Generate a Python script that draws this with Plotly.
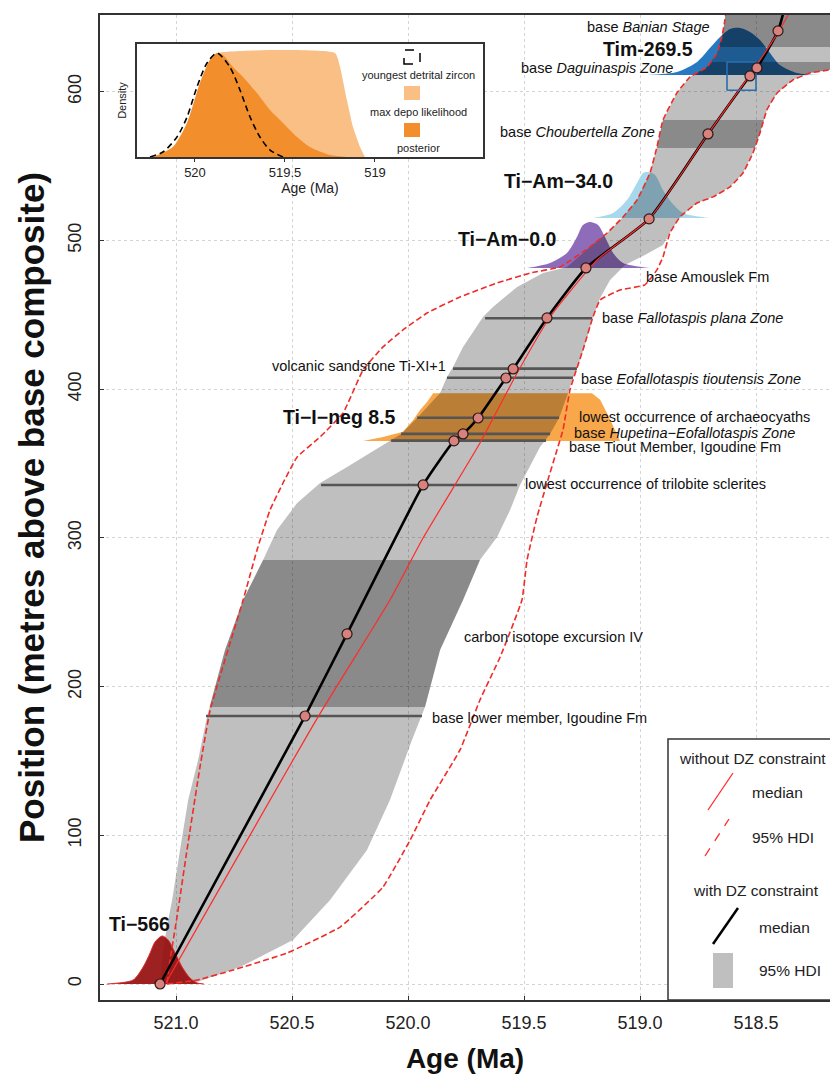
import numpy as np
import plotly.graph_objects as go

FONT = "Liberation Sans"

# ---------------- data ----------------
# horizon medians (with DZ constraint): age (Ma), position (m)
horizon_age = [521.069, 520.444, 520.263, 519.935, 519.802, 519.763, 519.698,
               519.578, 519.547, 519.401, 519.233, 518.961, 518.707, 518.526,
               518.496, 518.405]
horizon_pos = [0, 180.2, 235.4, 335.6, 365.2, 369.9, 380.6, 407.5, 413.6,
               447.9, 481.5, 514.5, 571.6, 610.6, 616.0, 640.9]

# age-depth median with DZ constraint
median_dz_age = horizon_age + [518.379]
median_dz_pos = horizon_pos + [655.0]

# age-depth median without DZ constraint
median_nodz_age = [521.047, 520.388, 520.078, 519.940, 519.690, 519.539, 519.388,
                   519.185, 518.957, 518.707, 518.517, 518.401, 518.349]
median_nodz_pos = [0, 179.6, 258.2, 298.6, 363.8, 408.2, 448.5,
                   486.9, 515.1, 571.6, 613.3, 640.9, 655.0]

# 95% HDI without DZ constraint (older / younger bounds)
hdi_nodz_old_age = [521.039, 521.026, 520.996, 520.953, 520.897, 520.853, 520.711, 520.651,
                    520.595, 520.539, 520.478, 520.379, 520.280, 520.194, 520.108, 520.022,
                    519.918, 519.776, 519.616, 519.474, 519.345, 519.216, 519.142, 519.073,
                    519.013, 518.957, 518.927, 518.901, 518.841, 518.784, 518.711, 518.668,
                    518.647, 518.634, 518.629]
hdi_nodz_old_pos = [0.7, 16.1, 45.1, 90.1, 145.9, 184.3, 258.2, 291.9,
                    318.8, 336.9, 354.4, 367.9, 384.0, 412.9, 428.4, 439.8,
                    451.2, 462.0, 471.4, 478.1, 482.2, 495.6, 505.0, 515.8,
                    527.2, 545.4, 562.9, 581.0, 599.2, 610.0, 616.7, 626.1,
                    636.8, 648.3, 655.0]
hdi_nodz_young_age = [521.039, 520.909, 520.754, 520.522, 520.293, 520.108, 519.991, 519.905,
                      519.776, 519.690, 519.603, 519.509, 519.487, 519.444, 519.401, 519.358,
                      519.332, 519.302, 519.246, 519.203, 519.172, 519.086, 518.979, 518.927,
                      518.901, 518.871, 518.828, 518.754, 518.685, 518.612, 518.556, 518.513,
                      518.483, 518.453, 518.409, 518.341, 518.267, 518.181, 518.052]
hdi_nodz_young_pos = [0, 2.7, 9.4, 20.8, 38.3, 65.2, 96.8, 123.7,
                      157.4, 191.0, 219.9, 258.2, 285.1, 314.1, 336.9, 359.1,
                      372.6, 399.5, 426.4, 448.5, 460.0, 466.7, 470.1, 480.2,
                      488.9, 505.0, 515.8, 525.2, 529.3, 536.0, 545.4, 558.8,
                      572.3, 587.8, 599.2, 607.9, 612.6, 614.7, 616.0]

# 95% HDI with DZ constraint
hdi_dz_old_age = [521.069, 521.056, 521.034, 521.017, 520.983, 520.948, 520.905, 520.866,
                  520.789, 520.711, 520.625, 520.565, 520.478, 520.379, 520.263, 520.164,
                  520.078, 520.030, 519.961, 519.862, 519.832, 519.806, 519.763, 519.677,
                  519.634, 519.530, 519.418, 519.315, 519.216, 519.142, 519.073, 519.013,
                  518.957, 518.927, 518.901, 518.841, 518.784, 518.711, 518.668, 518.647,
                  518.634, 518.629]
hdi_dz_old_pos = [0, 22.9, 43.0, 56.5, 90.1, 123.7, 150.6, 180.2,
                  224.6, 258.2, 285.1, 305.3, 323.5, 336.9, 347.7, 357.1,
                  365.2, 369.9, 380.6, 397.4, 408.2, 414.9, 428.4, 448.5,
                  455.3, 468.7, 478.1, 482.2, 495.6, 505.0, 515.8, 527.2,
                  545.4, 562.9, 581.0, 599.2, 610.0, 616.7, 626.1, 636.8,
                  648.3, 670.0]
hdi_dz_young_age = [520.909, 520.724, 520.496, 520.336, 520.177, 520.078, 519.983, 519.927,
                    519.862, 519.763, 519.690, 519.616, 519.560, 519.517, 519.431, 519.388,
                    519.349, 519.310, 519.289, 519.272, 519.237, 519.203, 519.172, 519.129,
                    519.065, 518.979, 518.901, 518.871, 518.828, 518.754, 518.685, 518.612,
                    518.556, 518.513, 518.483, 518.453, 518.409, 518.341, 518.267, 518.181,
                    518.052, 518.0]
hdi_dz_young_pos = [1.3, 11.4, 29.6, 56.5, 90.1, 123.7, 164.1, 186.3,
                    224.6, 258.2, 285.1, 300.6, 318.8, 335.6, 361.1, 369.9,
                    380.6, 397.4, 407.5, 413.6, 429.7, 447.9, 461.3, 473.4,
                    483.5, 490.2, 497.0, 505.0, 515.8, 525.2, 529.3, 536.0,
                    545.4, 558.8, 572.3, 587.8, 599.2, 607.9, 612.6, 614.7,
                    616.0, 670.0]

# darker shaded intervals (position ranges)
band_bottom = [186.3, 562.2, 611.3, 630.1]
band_top = [285.1, 581.0, 620.0, 670.0]

# horizon uncertainty bars
bar_pos = [180.2, 335.6, 365.4, 369.9, 380.8, 407.7, 413.8, 447.7]
bar_old = [520.871, 520.375, 520.073, 520.030, 519.961, 519.832, 519.806, 519.668]
bar_young = [519.940, 519.530, 519.405, 519.388, 519.349, 519.289, 519.272, 519.207]

# dated samples: density curves (age, height in m) and base position
ti566_age = [521.297, 521.272, 521.185, 521.142, 521.112, 521.091, 521.060, 521.034,
             521.004, 520.974, 520.940, 520.909, 520.880]
ti566_h = [0, 0.3, 2.7, 11.4, 20.8, 28.2, 32.3, 29.6, 20.8, 11.4, 4.0, 0.7, 0]
ti566_base = 0.0

tiam0_age = [519.487, 519.388, 519.315, 519.272, 519.246, 519.216, 519.181, 519.151,
             519.116, 519.073, 518.957]
tiam0_h = [0, 3.4, 10.1, 20.8, 28.9, 30.9, 28.9, 20.8, 10.1, 3.4, 0]
tiam0_base = 481.5

tiam34_age = [519.203, 519.116, 519.056, 519.013, 518.987, 518.966, 518.935, 518.901,
              518.862, 518.815, 518.698]
tiam34_h = [0, 3.4, 12.1, 23.5, 30.3, 30.9, 28.9, 18.8, 10.1, 3.4, 0]
tiam34_base = 515.1

tim_age = [518.970, 518.841, 518.754, 518.698, 518.655, 518.612, 518.569, 518.526,
           518.483, 518.440, 518.397, 518.323, 518.224]
tim_h = [0, 2.0, 8.7, 18.2, 25.5, 30.9, 31.6, 28.9, 23.5, 14.8, 6.7, 1.3, 0]
tim_base = 611.3

tineg_age = [520.194, 520.108, 520.022, 519.978, 519.948, 519.918, 519.892, 519.207,
             519.172, 519.138, 519.108, 519.086]
tineg_h = [0, 2.7, 6.1, 14.1, 20.8, 26.2, 32.0, 32.0, 27.6, 17.5, 7.4, 0]
tineg_base = 365.2

# detrital zircon box
dz_box_age = [518.625, 518.500]
dz_box_pos = [601.0, 620.0]

# labels
label_text = ["base <i>Banian Stage</i>", "<b>Tim-269.5</b>", "base <i>Daguinaspis Zone</i>",
              "base <i>Choubertella Zone</i>", "<b>Ti−Am−34.0</b>", "<b>Ti−Am−0.0</b>",
              "base Amouslek Fm", "base <i>Fallotaspis plana Zone</i>",
              "volcanic sandstone Ti-XI+1", "base <i>Eofallotaspis tioutensis Zone</i>",
              "<b>Ti−I−neg 8.5</b>", "lowest occurrence of archaeocyaths",
              "base <i>Hupetina−Eofallotaspis Zone</i>", "base Tiout Member, Igoudine Fm",
              "lowest occurrence of trilobite sclerites", "carbon isotope excursion IV",
              "base lower member, Igoudine Fm", "<b>Ti−566</b>"]
label_age = [518.690, 518.763, 518.849, 518.927, 519.108, 519.353, 518.983, 519.172,
             519.828, 519.263, 520.043, 519.272, 519.293, 519.315, 519.504, 519.767,
             519.905, 521.297]
label_pos = [643.6, 628.8, 615.7, 573.0, 540.0, 501.0, 475.5, 447.9,
             415.6, 406.9, 381.6, 381.3, 370.5, 361.1, 335.9, 233.4,
             178.9, 40.3]
label_side = ["right", "right", "right", "right", "right", "right", "left", "left",
              "right", "left", "right", "left", "left", "left", "left", "left",
              "left", "left"]

# inset: Tim-269.5 sample
inset_post_age = [520.233, 520.122, 520.044, 519.972, 519.917, 519.878, 519.844, 519.789,
                  519.733, 519.656, 519.583, 519.511, 519.433, 519.361, 519.25, 519.156]
inset_post_d = [0, 0.096, 0.327, 0.712, 0.933, 1.0, 0.981, 0.865,
                0.769, 0.615, 0.452, 0.327, 0.192, 0.096, 0.019, 0]
inset_dz_age = [520.25, 520.178, 520.1, 520.044, 519.989, 519.933, 519.878, 519.806,
                519.75, 519.694, 519.639, 519.583, 519.511]
inset_dz_d = [0, 0.048, 0.192, 0.385, 0.673, 0.904, 1.0, 0.865,
              0.644, 0.385, 0.192, 0.067, 0]
inset_mdl_age = [520.233, 520.122, 520.044, 519.972, 519.917, 519.878, 519.222, 519.194,
                 519.156, 519.122, 519.083, 519.056]
inset_mdl_d = [0, 0.096, 0.327, 0.712, 0.933, 1.0, 1.0, 0.865, 0.548, 0.288, 0.096, 0]

x_ticks = [521.0, 520.5, 520.0, 519.5, 519.0, 518.5]
y_ticks = [0, 100, 200, 300, 400, 500, 600]
inset_ticks = [520.0, 519.5, 519.0]

# ---------------- figure ----------------
W, H = 830, 1079
ML, MR, MT, MB = 100, 0, 15, 79


def px(x):
    return (x - ML) / (W - ML - MR)


def py(y):
    return (H - MB - y) / (H - MT - MB)


fig = go.Figure()


def density(age, h, base, fill, line=None, lw=0, shape="spline"):
    fig.add_trace(go.Scatter(
        x=age, y=[base + v for v in h], mode="lines", fill="toself",
        fillcolor=fill, line=dict(color=line or fill, width=lw, shape=shape, smoothing=0.8),
        hoverinfo="skip", showlegend=False))


# densities beneath the HDI shading
density(tiam0_age, tiam0_h, tiam0_base, "rgb(143,108,186)")
density(tiam34_age, tiam34_h, tiam34_base, "rgb(168,216,236)")
density(tim_age, tim_h, tim_base, "rgb(40,122,192)")
density(tineg_age, tineg_h, tineg_base, "rgb(248,168,74)", shape="linear")

# HDI with DZ constraint (translucent grey)
poly_x = list(hdi_dz_old_age) + list(hdi_dz_young_age[::-1])
poly_y = list(hdi_dz_old_pos) + list(hdi_dz_young_pos[::-1])
fig.add_trace(go.Scatter(x=poly_x, y=poly_y, mode="lines", fill="toself",
                         fillcolor="rgba(0,0,0,0.25)", line=dict(width=0),
                         hoverinfo="skip", showlegend=False))

# darker bands
for b0, b1 in zip(band_bottom, band_top):
    op = np.array(hdi_dz_old_pos)
    yp = np.array(hdi_dz_young_pos)
    pl = [b0] + [p for p in op if b0 < p < b1] + [b1]
    pr = [b0] + [p for p in yp if b0 < p < b1] + [b1]
    al = np.interp(pl, hdi_dz_old_pos, hdi_dz_old_age)
    ar = np.interp(pr, hdi_dz_young_pos, hdi_dz_young_age)
    fig.add_trace(go.Scatter(x=list(al) + list(ar[::-1]), y=pl + pr[::-1], mode="lines",
                             fill="toself", fillcolor="rgba(0,0,0,0.28)", line=dict(width=0),
                             hoverinfo="skip", showlegend=False))

# Ti-566 density on top
density(ti566_age, ti566_h, ti566_base, "rgba(150,14,14,0.92)", line="rgb(225,40,40)", lw=1)

# horizon bars
bx, by = [], []
for p, a0, a1 in zip(bar_pos, bar_old, bar_young):
    bx += [a0, a1, None]
    by += [p, p, None]
fig.add_trace(go.Scatter(x=bx, y=by, mode="lines", line=dict(color="#555555", width=2.6),
                         hoverinfo="skip", showlegend=False))

# without DZ constraint: HDI dashed, median solid
for a, p in [(hdi_nodz_old_age, hdi_nodz_old_pos), (hdi_nodz_young_age, hdi_nodz_young_pos)]:
    fig.add_trace(go.Scatter(x=a, y=p, mode="lines",
                             line=dict(color="#ee2c28", width=1.6, dash="6px,3px", shape="spline", smoothing=0.35),
                             hoverinfo="skip", showlegend=False))

# median with DZ constraint
fig.add_trace(go.Scatter(x=median_dz_age, y=median_dz_pos, mode="lines",
                         line=dict(color="black", width=2.6, shape="spline", smoothing=0.5),
                         hoverinfo="skip", showlegend=False))
fig.add_trace(go.Scatter(x=median_nodz_age, y=median_nodz_pos, mode="lines",
                         line=dict(color="#ff2a2a", width=1.2, shape="spline", smoothing=0.5),
                         hoverinfo="skip", showlegend=False))

# DZ box
fig.add_trace(go.Scatter(x=[dz_box_age[0], dz_box_age[1], dz_box_age[1], dz_box_age[0], dz_box_age[0]],
                         y=[dz_box_pos[0], dz_box_pos[0], dz_box_pos[1], dz_box_pos[1], dz_box_pos[0]],
                         mode="lines", line=dict(color="#2a6fae", width=1.6),
                         hoverinfo="skip", showlegend=False))

# horizon points
fig.add_trace(go.Scatter(x=horizon_age, y=horizon_pos, mode="markers",
                         marker=dict(size=10, color="#d9817c", line=dict(color="#2a1a1a", width=1.2)),
                         hoverinfo="skip", showlegend=False))

# labels
for t, a, p, s in zip(label_text, label_age, label_pos, label_side):
    bold = t.startswith("<b>")
    fig.add_annotation(x=a, y=p, text=t, showarrow=False, xanchor=s, yanchor="middle",
                       font=dict(family=FONT, size=19.5 if bold else 14.5, color="#111"),
                       xref="x", yref="y")

# ---------------- inset ----------------
ix0, ix1 = 520.322, 518.40
iy0, iy1 = 0.0, 1.087
fig.add_trace(go.Scatter(x=[ix0, ix1, ix1, ix0, ix0], y=[iy0, iy0, iy1, iy1, iy0], mode="lines",
                         fill="toself", fillcolor="white", line=dict(width=0),
                         xaxis="x2", yaxis="y2", hoverinfo="skip", showlegend=False))
fig.add_trace(go.Scatter(x=inset_mdl_age, y=inset_mdl_d, mode="lines", fill="toself",
                         fillcolor="#f9bf85", line=dict(width=0, shape="spline", smoothing=0.5),
                         xaxis="x2", yaxis="y2", hoverinfo="skip", showlegend=False))
fig.add_trace(go.Scatter(x=inset_post_age, y=inset_post_d, mode="lines", fill="toself",
                         fillcolor="#f28e2b", line=dict(width=0, shape="spline", smoothing=0.8),
                         xaxis="x2", yaxis="y2", hoverinfo="skip", showlegend=False))
fig.add_trace(go.Scatter(x=inset_dz_age, y=inset_dz_d, mode="lines",
                         line=dict(color="black", width=1.6, dash="6px,4px", shape="spline", smoothing=0.8),
                         xaxis="x2", yaxis="y2", hoverinfo="skip", showlegend=False))

# inset legend
leg_x = 412
items = [(57, 75, "youngest detrital zircon", "white", "dash"),
         (93, 112, "max depo likelihood", "#f9bf85", None),
         (130, 148, "posterior", "#f28e2b", None)]
for ys, yt, txt, col, dash in items:
    fig.add_shape(type="rect", xref="paper", yref="paper",
                  x0=px(leg_x - 8), x1=px(leg_x + 8), y0=py(ys + 7), y1=py(ys - 7),
                  fillcolor=col, line=dict(color="black" if dash else col, width=1.5 if dash else 0,
                                           dash="dash" if dash else None), layer="above")
    fig.add_annotation(x=px(leg_x + 6), y=py(yt), xref="paper", yref="paper", text=txt,
                       showarrow=False, xanchor="center", yanchor="middle",
                       font=dict(family=FONT, size=11, color="#222"))

# main legend
fig.add_shape(type="rect", xref="paper", yref="paper", x0=px(668), x1=px(860), y0=py(1000), y1=py(739),
              fillcolor="white", line=dict(color="#333", width=1.5), layer="above")
fig.add_shape(type="line", xref="paper", yref="paper", x0=px(708), y0=py(810), x1=px(733), y1=py(773),
              line=dict(color="#ff2a2a", width=1.3), layer="above")
fig.add_shape(type="line", xref="paper", yref="paper", x0=px(705), y0=py(856), x1=px(729), y1=py(819),
              line=dict(color="#ff2a2a", width=1.3, dash="dash"), layer="above")
fig.add_shape(type="line", xref="paper", yref="paper", x0=px(713), y0=py(944), x1=px(738), y1=py(908),
              line=dict(color="black", width=2.5), layer="above")
fig.add_shape(type="rect", xref="paper", yref="paper", x0=px(713), y0=py(988), x1=px(733), y1=py(953),
              fillcolor="#bfbfbf", line=dict(width=0), layer="above")
for xx, yy, txt in [(677, 758, "without DZ constraint"), (750, 792, "median"), (750, 837, "95% HDI"),
                    (691, 890, "with DZ constraint"), (757, 927, "median"), (757, 970, "95% HDI")]:
    fig.add_annotation(x=px(xx), y=py(yy), xref="paper", yref="paper", text=txt, showarrow=False,
                       xanchor="left", yanchor="middle", font=dict(family=FONT, size=15.5, color="#222"))

axis_common = dict(showline=True, linecolor="#333", linewidth=1.5, zeroline=False,
                   tickcolor="#333", automargin=False)
fig.update_layout(
    width=W, height=H, margin=dict(l=ML, r=MR, t=MT, b=MB, autoexpand=False),
    paper_bgcolor="white", plot_bgcolor="white", showlegend=False,
    font=dict(family=FONT, color="#222"),
    xaxis=dict(range=[521.328, 518.181], tickvals=x_ticks, ticktext=[f"{v:.1f}" for v in x_ticks],
               showgrid=True, gridcolor="#d4d4d4", griddash="dot", gridwidth=1,
               mirror=True, ticks="inside", ticklen=4, tickfont=dict(size=18, color="#222"),
               ticklabelstandoff=6,
               title=dict(text="<b>Age (Ma)</b>", font=dict(size=28, color="#111"), standoff=16),
               domain=[0, 1], **axis_common),
    yaxis=dict(range=[-10.76, 651.6], tickvals=y_ticks, tickangle=-90,
               showgrid=True, gridcolor="#d4d4d4", griddash="dot", gridwidth=1,
               mirror=False, ticks="inside", ticklen=4, tickfont=dict(size=18, color="#222"),
               ticklabelstandoff=10,
               title=dict(text="<b>Position (metres above base composite)</b>",
                          font=dict(size=35, color="#111"), standoff=10),
               domain=[0, 1], **axis_common),
    xaxis2=dict(domain=[px(137), px(483)], anchor="y2", range=[ix0, ix1], tickvals=inset_ticks,
                ticktext=["520", "519.5", "519"], showgrid=False, mirror=True, ticks="outside",
                ticklen=3, tickfont=dict(size=13, color="#222"),
                title=dict(text="Age (Ma)", font=dict(size=14, color="#222"), standoff=2),
                **axis_common),
    yaxis2=dict(domain=[py(157), py(44)], anchor="x2", range=[iy0, iy1], showgrid=False,
                mirror=True, showticklabels=False, ticks="",
                title=dict(text="Density", font=dict(size=11, color="#222"), standoff=6),
                **axis_common),
)

# remove the default page margin so the figure sits at the window origin
fig.write_html("out.html", config={"displayModeBar": False},
               post_script="document.body.style.margin='0px';")
